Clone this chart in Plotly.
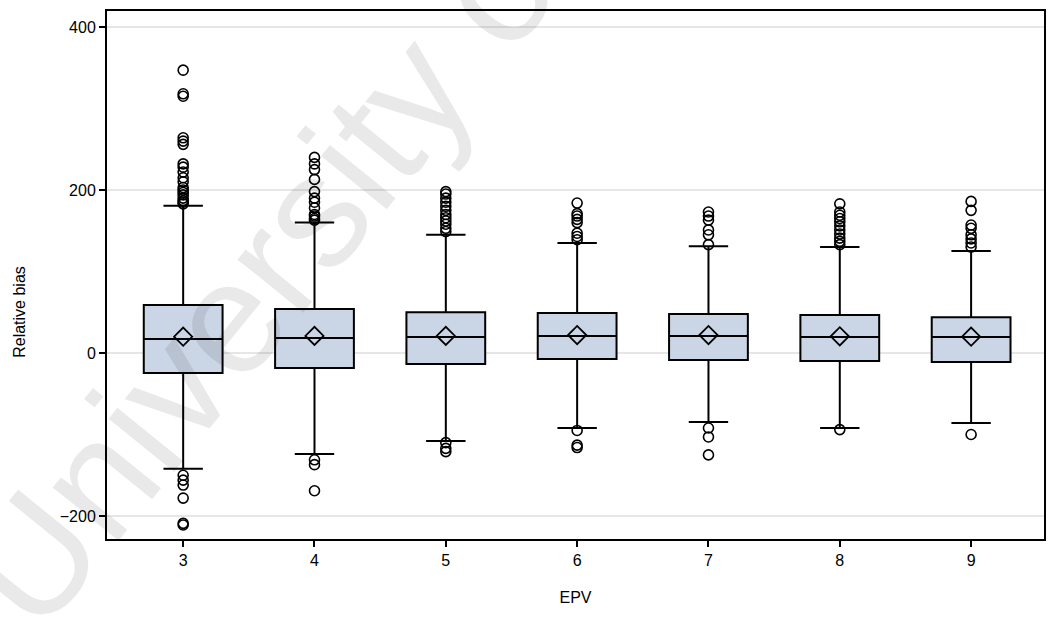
import plotly.graph_objects as go

epv = [3, 4, 5, 6, 7, 8, 9]
q1 = [-24.5, -18.4, -13.5, -7.4, -8.6, -9.8, -11.0]
median = [17.2, 18.4, 19.6, 21.0, 21.0, 19.6, 19.6]
q3 = [58.9, 54.0, 50.0, 49.0, 48.0, 46.6, 44.0]
lower_whisker = [-142.0, -124.0, -108.0, -92.0, -84.7, -92.0, -86.0]
upper_whisker = [180.7, 160.0, 145.0, 135.0, 131.0, 130.0, 125.0]
mean = [20.0, 21.0, 21.0, 22.0, 22.0, 20.5, 20.0]

outliers = {
    3: [347, 318, 315, 264, 260, 256, 232, 228, 222, 215, 210, 203, 200, 197, 194,
        190, 187, 185, 183, -150, -156, -162, -178, -209, -211],
    4: [240, 232, 225, 213, 198, 190, 185, 178, 170, 168, 165, 163, -131, -137, -169],
    5: [198, 195, 190, 185, 180, 175, 170, 166, 162, 158, 153, 149, -110, -117, -121],
    6: [184, 171, 168, 164, 160, 147, 143, 139, -95, -113, -116],
    7: [173, 168, 163, 151, 145, 133, -92, -103, -125],
    8: [183, 173, 169, 165, 161, 156, 151, 146, 141, 137, 133, -94],
    9: [186, 175, 157, 153, 145, 140, 135, 130, -100],
}

fig = go.Figure()

for i, e in enumerate(epv):
    fig.add_trace(go.Box(
        x=[e], q1=[q1[i]], median=[median[i]], q3=[q3[i]],
        lowerfence=[lower_whisker[i]], upperfence=[upper_whisker[i]],
        width=0.6, whiskerwidth=0.5, boxpoints=False,
        fillcolor="#CAD5E5", line=dict(color="black", width=2),
        showlegend=False, hoverinfo="skip",
    ))

ox, oy = [], []
for e in epv:
    for v in outliers[e]:
        ox.append(e)
        oy.append(v)

fig.add_trace(go.Scatter(
    x=ox, y=oy, mode="markers", showlegend=False,
    marker=dict(symbol="circle-open", size=10, color="black", line=dict(width=1.6)),
))

fig.add_trace(go.Scatter(
    x=epv, y=mean, mode="markers", showlegend=False,
    marker=dict(symbol="diamond-open", size=14, color="black", line=dict(width=1.8)),
))

# faint diagonal watermark
fig.add_annotation(
    text="University of Malaya", xref="paper", yref="paper",
    x=0.365, y=0.936, xanchor="center", yanchor="middle",
    showarrow=False, textangle=-51,
    font=dict(family="Liberation Sans, Arial", size=160, color="rgba(0,0,0,0.085)"),
)

# y-axis title
fig.add_annotation(
    text="Relative bias", xref="paper", yref="paper",
    x=-0.093, y=0.43, showarrow=False, textangle=-90,
    xanchor="center", yanchor="middle",
    font=dict(family="Liberation Sans, Arial", size=16, color="black"),
)

fig.update_layout(
    width=1048, height=620,
    margin=dict(l=107, r=2, t=11, b=81),
    paper_bgcolor="white", plot_bgcolor="white",
    font=dict(family="Liberation Sans, Arial", color="black", size=16),
    xaxis=dict(
        range=[2.42, 9.555], tickvals=epv, ticktext=[str(e) for e in epv],
        showline=True, linecolor="black", linewidth=2, mirror=True,
        ticks="outside", ticklen=6, tickwidth=1.5, tickcolor="black",
        showgrid=False, zeroline=False,
        title=dict(text="EPV", font=dict(size=16), standoff=24),
    ),
    yaxis=dict(
        range=[-228.2, 419.6], tickvals=[-200, 0, 200, 400],
        showline=True, linecolor="black", linewidth=2, mirror=True,
        ticks="outside", ticklen=6, tickwidth=1.5, tickcolor="black",
        showgrid=True, gridcolor="#e6e6e6", gridwidth=1.5, zeroline=False,
    ),
)

fig.write_html("out.html")
